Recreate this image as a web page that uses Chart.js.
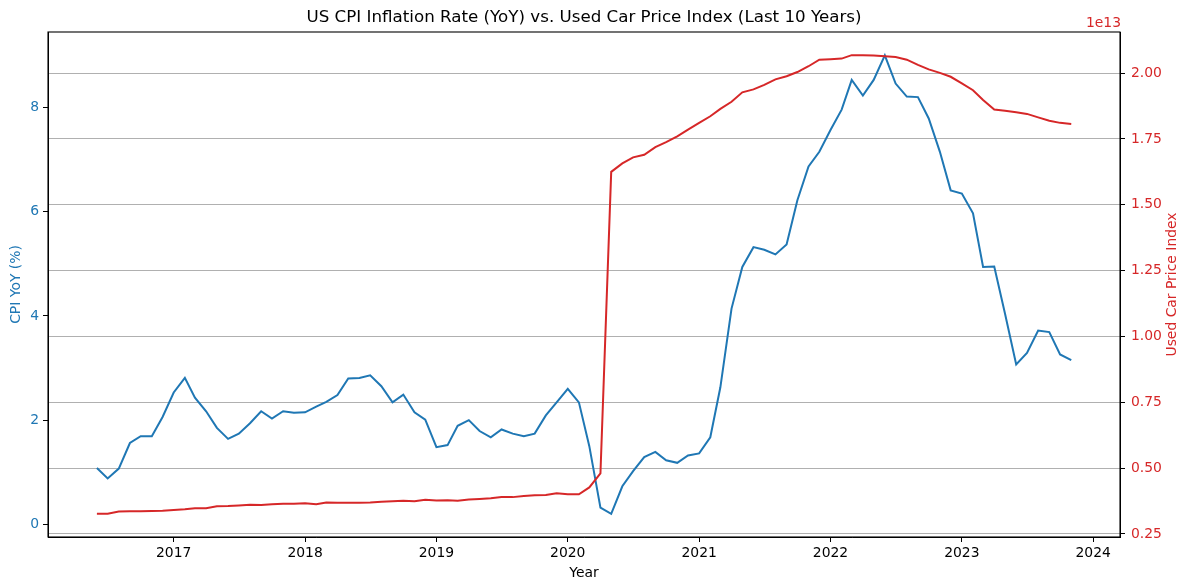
<!DOCTYPE html>
<html><head><meta charset="utf-8">
<script src="https://cdn.jsdelivr.net/npm/chart.js@4"></script>
<style>html,body{margin:0;padding:0;background:#fff}</style>
</head><body>
<canvas id="c" width="1189" height="583" style="width:1189px;height:583px;display:block"></canvas>
<script>
const months = [
 "2016-06","2016-07","2016-08","2016-09","2016-10","2016-11","2016-12",
 "2017-01","2017-02","2017-03","2017-04","2017-05","2017-06","2017-07","2017-08","2017-09","2017-10","2017-11","2017-12",
 "2018-01","2018-02","2018-03","2018-04","2018-05","2018-06","2018-07","2018-08","2018-09","2018-10","2018-11","2018-12",
 "2019-01","2019-02","2019-03","2019-04","2019-05","2019-06","2019-07","2019-08","2019-09","2019-10","2019-11","2019-12",
 "2020-01","2020-02","2020-03","2020-04","2020-05","2020-06","2020-07","2020-08","2020-09","2020-10","2020-11","2020-12",
 "2021-01","2021-02","2021-03","2021-04","2021-05","2021-06","2021-07","2021-08","2021-09","2021-10","2021-11","2021-12",
 "2022-01","2022-02","2022-03","2022-04","2022-05","2022-06","2022-07","2022-08","2022-09","2022-10","2022-11","2022-12",
 "2023-01","2023-02","2023-03","2023-04","2023-05","2023-06","2023-07","2023-08","2023-09","2023-10","2023-11"
];
const cpiYoY = [
 1.08,0.88,1.07,1.56,1.69,1.69,2.06,
 2.53,2.81,2.43,2.17,1.85,1.64,1.74,1.94,2.17,2.03,2.17,2.14,
 2.15,2.26,2.35,2.48,2.80,2.81,2.86,2.65,2.34,2.49,2.15,2.01,
 1.48,1.52,1.89,2.00,1.79,1.67,1.82,1.74,1.69,1.74,2.09,2.34,
 2.60,2.34,1.50,0.32,0.20,0.73,1.02,1.29,1.39,1.23,1.18,1.32,
 1.36,1.67,2.63,4.14,4.94,5.32,5.27,5.18,5.37,6.22,6.87,7.15,
 7.57,7.96,8.53,8.23,8.53,9.00,8.46,8.21,8.20,7.79,7.15,6.41,
 6.35,5.97,4.94,4.95,4.04,3.07,3.29,3.72,3.69,3.26,3.15
];
// Used car price index, in units of 1e13
const usedCarIndexE13 = [
 0.327,0.327,0.335,0.336,0.336,0.337,0.338,
 0.341,0.344,0.348,0.348,0.355,0.356,0.358,0.361,0.360,0.363,0.365,0.365,
 0.367,0.363,0.370,0.369,0.369,0.369,0.370,0.372,0.374,0.376,0.374,0.380,
 0.377,0.378,0.376,0.381,0.383,0.386,0.390,0.390,0.394,0.397,0.398,0.405,
 0.401,0.401,0.427,0.480,1.625,1.657,1.680,1.690,1.719,1.738,1.760,1.785,
 1.811,1.836,1.864,1.891,1.927,1.938,1.955,1.976,1.988,2.004,2.026,2.051,
 2.053,2.055,2.068,2.068,2.067,2.064,2.061,2.051,2.031,2.014,2.001,1.986,
 1.961,1.935,1.898,1.862,1.857,1.851,1.845,1.832,1.819,1.811,1.807
];
const yearTicks = [2017,2018,2019,2020,2021,2022,2023,2024];
const cpiTicks = [0,2,4,6,8];
const carTicks = [0.25,0.50,0.75,1.00,1.25,1.50,1.75,2.00];

const TITLE = 'US CPI Inflation Rate (YoY) vs. Used Car Price Index (Last 10 Years)';
const RIGHT_TITLE = 'Used Car Price Index';
const OFFSET_TEXT = '1e13';

function toYear(s){
  const [y,m] = s.split('-').map(Number);
  const start = Date.UTC(y,0,1), end = Date.UTC(y+1,0,1);
  return y + (Date.UTC(y,m-1,1)-start)/(end-start);
}

const FONT = 'DejaVu Sans';
const tickFont = {family: FONT, size: 13.9};
const BLUE = '#1f77b4', RED = '#d62728';

const framePlugin = {
  id: 'frame',
  afterDraw(chart){
    const {ctx, chartArea: a} = chart;
    ctx.save();
    ctx.strokeStyle = '#000';
    ctx.lineWidth = 1.1;
    ctx.strokeRect(a.left, a.top, a.right - a.left, a.bottom - a.top);
    // title centred over the axes
    ctx.fillStyle = '#000';
    ctx.font = '16.7px "DejaVu Sans"';
    ctx.textAlign = 'center';
    ctx.textBaseline = 'middle';
    ctx.fillText(TITLE, (a.left + a.right) / 2, 18);
    // offset text
    ctx.fillStyle = RED;
    ctx.font = '13.9px "DejaVu Sans"';
    ctx.textAlign = 'right';
    ctx.textBaseline = 'alphabetic';
    ctx.fillText(OFFSET_TEXT, a.right + 1, a.top - 5);
    // right axis title, reading bottom to top
    ctx.translate(1172, (a.top + a.bottom) / 2);
    ctx.rotate(-Math.PI / 2);
    ctx.textAlign = 'center';
    ctx.textBaseline = 'middle';
    ctx.fillText(RIGHT_TITLE, 0, 0);
    ctx.restore();
  }
};

new Chart(document.getElementById('c'), {
  type: 'line',
  data: {
    datasets: [
      {
        label: 'CPI YoY (%)',
        data: months.map((m,i)=>({x: toYear(m), y: cpiYoY[i]})),
        borderColor: BLUE, borderWidth: 2, pointRadius: 0, tension: 0,
        yAxisID: 'y', order: 2, fill: false
      },
      {
        label: 'Used Car Price Index',
        data: months.map((m,i)=>({x: toYear(m), y: usedCarIndexE13[i]})),
        borderColor: RED, borderWidth: 2, pointRadius: 0, tension: 0,
        yAxisID: 'y2', order: 1, fill: false
      }
    ]
  },
  options: {
    responsive: false,
    animation: false,
    layout: {padding: {top: 32, left: 0, right: 0, bottom: 0}},
    plugins: {
      legend: {display: false},
      tooltip: {enabled: false},
      title: {display: false}
    },
    scales: {
      x: {
        type: 'linear', position: 'bottom',
        min: 2016.043, max: 2024.204,
        afterBuildTicks: s => { s.ticks = yearTicks.map(v=>({value: v})); },
        afterFit: s => { s.height = 46; },
        ticks: {callback: v => String(v), color: '#000', font: tickFont, padding: 3, maxRotation: 0, autoSkip: false},
        grid: {drawOnChartArea: false, drawTicks: true, tickLength: 5, tickColor: '#000', tickWidth: 1},
        border: {display: true, color: '#000', width: 1},
        title: {display: true, text: 'Year', color: '#000', font: tickFont, padding: {top: 0, bottom: 1.5}}
      },
      y: {
        type: 'linear', position: 'left',
        min: -0.244, max: 9.45,
        afterBuildTicks: s => { s.ticks = cpiTicks.map(v=>({value: v})); },
        afterFit: s => { s.width = 48; },
        ticks: {callback: v => String(v), color: BLUE, font: tickFont, padding: 4},
        grid: {drawOnChartArea: false, drawTicks: true, tickLength: 5, tickColor: '#000', tickWidth: 1},
        border: {display: true, color: '#000', width: 1},
        title: {display: true, text: 'CPI YoY (%)', color: BLUE, font: tickFont, padding: {top: 8, bottom: 0}}
      },
      y2: {
        type: 'linear', position: 'right',
        min: 0.2386, max: 2.156,
        afterBuildTicks: s => { s.ticks = carTicks.map(v=>({value: v})); },
        afterFit: s => { s.width = 69; },
        ticks: {callback: v => Number(v).toFixed(2), color: RED, font: tickFont, padding: 6},
        grid: {drawOnChartArea: true, color: '#b0b0b0', lineWidth: 1, drawTicks: true, tickLength: 5, tickColor: '#000', tickWidth: 1},
        border: {display: true, color: '#000', width: 1},
        title: {display: false}
      }
    }
  },
  plugins: [framePlugin]
});
</script>
</body></html>
